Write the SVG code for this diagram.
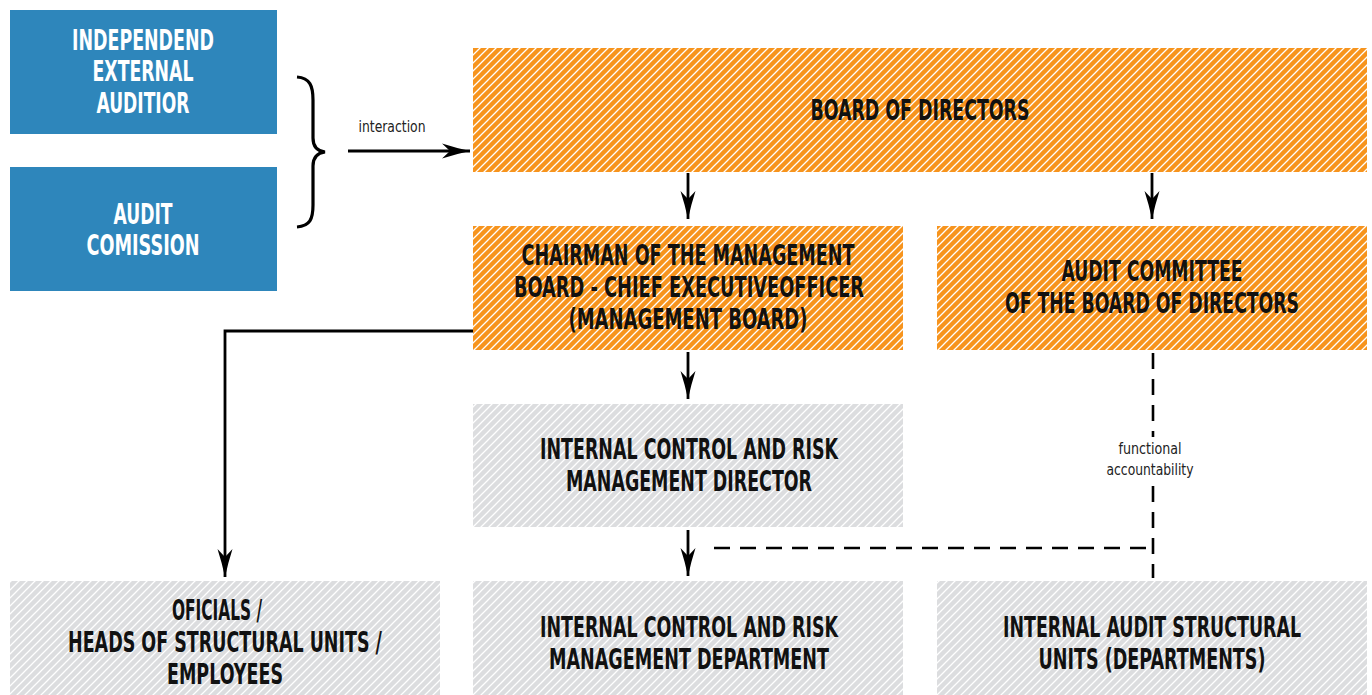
<svg xmlns="http://www.w3.org/2000/svg" width="1372" height="695" viewBox="0 0 1372 695">
<defs>
<pattern id="hatchO" width="8" height="8" patternUnits="userSpaceOnUse">
<rect width="8" height="8" fill="#f7941d"/>
<path d="M-2,2 L2,-2 M0,8 L8,0 M6,10 L10,6" stroke="#ffffff" stroke-width="1.3"/>
</pattern>
<pattern id="hatchG" width="8" height="8" patternUnits="userSpaceOnUse">
<rect width="8" height="8" fill="#dcdddf"/>
<path d="M-2,2 L2,-2 M0,8 L8,0 M6,10 L10,6" stroke="#ffffff" stroke-width="1.3"/>
</pattern>
<marker id="arr" markerWidth="30" markerHeight="16" refX="28" refY="8" orient="auto" markerUnits="userSpaceOnUse">
<path d="M0,0.5 Q14,5 28,8 Q14,11 0,15.5 L8,8 Z" fill="#000"/>
</marker>
</defs>
<style>
.t{font-family:"Liberation Sans Narrow","DejaVu Sans Condensed","Roboto Condensed",sans-serif;font-weight:bold;font-size:28px;text-anchor:middle;fill:#111}
.w{fill:#ffffff}
.s{font-family:"Liberation Sans Narrow","DejaVu Sans Condensed","Roboto Condensed",sans-serif;font-size:16px;text-anchor:middle;fill:#222}
.ln{stroke:#000;stroke-width:2.8;fill:none}
.dash{stroke:#000;stroke-width:2.6;fill:none;stroke-dasharray:16 10}
</style>
<g id="external-auditor">
<rect x="10" y="10" width="267" height="124" fill="#2e86bb"/>
<text class="t w" x="143" y="50" textLength="142" lengthAdjust="spacingAndGlyphs">INDEPENDEND</text>
<text class="t w" x="143" y="81" textLength="101" lengthAdjust="spacingAndGlyphs">EXTERNAL</text>
<text class="t w" x="143" y="113" textLength="93" lengthAdjust="spacingAndGlyphs">AUDITIOR</text>
</g>
<g id="audit-comission">
<rect x="10" y="167" width="267" height="124" fill="#2e86bb"/>
<text class="t w" x="143" y="224" textLength="59" lengthAdjust="spacingAndGlyphs">AUDIT</text>
<text class="t w" x="143" y="255" textLength="113" lengthAdjust="spacingAndGlyphs">COMISSION</text>
</g>
<g id="board">
<rect x="473" y="48" width="894" height="124" fill="url(#hatchO)"/>
<text class="t" x="920" y="120" textLength="219" lengthAdjust="spacingAndGlyphs">BOARD OF DIRECTORS</text>
</g>
<g id="chairman">
<rect x="473" y="226" width="430" height="124" fill="url(#hatchO)"/>
<text class="t" x="688" y="265" textLength="333" lengthAdjust="spacingAndGlyphs">CHAIRMAN OF THE MANAGEMENT</text>
<text class="t" x="689" y="297" textLength="350" lengthAdjust="spacingAndGlyphs">BOARD - CHIEF EXECUTIVEOFFICER</text>
<text class="t" x="688" y="329" textLength="239" lengthAdjust="spacingAndGlyphs">(MANAGEMENT BOARD)</text>
</g>
<g id="audit-committee">
<rect x="937" y="226" width="430" height="124" fill="url(#hatchO)"/>
<text class="t" x="1152" y="281" textLength="181" lengthAdjust="spacingAndGlyphs">AUDIT COMMITTEE</text>
<text class="t" x="1152" y="313" textLength="294" lengthAdjust="spacingAndGlyphs">OF THE BOARD OF DIRECTORS</text>
</g>
<g id="icrm-director">
<rect x="473" y="404" width="430" height="123" fill="url(#hatchG)"/>
<text class="t" x="689" y="459" textLength="298" lengthAdjust="spacingAndGlyphs">INTERNAL CONTROL AND RISK</text>
<text class="t" x="689" y="491" textLength="246" lengthAdjust="spacingAndGlyphs">MANAGEMENT DIRECTOR</text>
</g>
<g id="officials">
<rect x="10" y="581" width="430" height="114" fill="url(#hatchG)"/>
<text class="t" x="217" y="620" textLength="90" lengthAdjust="spacingAndGlyphs">OFICIALS /</text>
<text class="t" x="225" y="652" textLength="314" lengthAdjust="spacingAndGlyphs">HEADS OF STRUCTURAL UNITS /</text>
<text class="t" x="225" y="684" textLength="116" lengthAdjust="spacingAndGlyphs">EMPLOYEES</text>
</g>
<g id="icrm-department">
<rect x="473" y="581" width="430" height="114" fill="url(#hatchG)"/>
<text class="t" x="689" y="637" textLength="298" lengthAdjust="spacingAndGlyphs">INTERNAL CONTROL AND RISK</text>
<text class="t" x="689" y="669" textLength="280" lengthAdjust="spacingAndGlyphs">MANAGEMENT DEPARTMENT</text>
</g>
<g id="internal-audit">
<rect x="937" y="581" width="430" height="114" fill="url(#hatchG)"/>
<text class="t" x="1152" y="637" textLength="298" lengthAdjust="spacingAndGlyphs">INTERNAL AUDIT STRUCTURAL</text>
<text class="t" x="1152" y="669" textLength="227" lengthAdjust="spacingAndGlyphs">UNITS (DEPARTMENTS)</text>
</g>
<g id="connectors">
<path d="M297,77 C310,78 313,86 313,100 L313,138 C313,146 317,151 325,152 C317,153 313,158 313,166 L313,205 C313,219 310,226 297,227" stroke="#000" stroke-width="3.2" fill="none"/>
<line class="ln" x1="348" y1="151" x2="470" y2="151" marker-end="url(#arr)"/>
<text class="s" x="392" y="132" textLength="67" lengthAdjust="spacingAndGlyphs">interaction</text>
<line class="ln" x1="688" y1="173" x2="688" y2="219" marker-end="url(#arr)"/>
<line class="ln" x1="1152" y1="173" x2="1152" y2="219" marker-end="url(#arr)"/>
<line class="ln" x1="688" y1="352" x2="688" y2="399" marker-end="url(#arr)"/>
<line class="ln" x1="688" y1="530" x2="688" y2="576" marker-end="url(#arr)"/>
<polyline class="ln" points="473,331 225,331 225,577" marker-end="url(#arr)"/>
<line class="dash" x1="1153" y1="353" x2="1153" y2="437" stroke-dasharray="3 7 16 10"/>
<line class="dash" x1="1153" y1="486" x2="1153" y2="578"/>
<line class="dash" x1="1146" y1="548" x2="708" y2="548"/>
<text class="s" x="1150" y="454" textLength="63" lengthAdjust="spacingAndGlyphs">functional</text>
<text class="s" x="1150" y="475" textLength="87" lengthAdjust="spacingAndGlyphs">accountability</text>
</g>
</svg>
